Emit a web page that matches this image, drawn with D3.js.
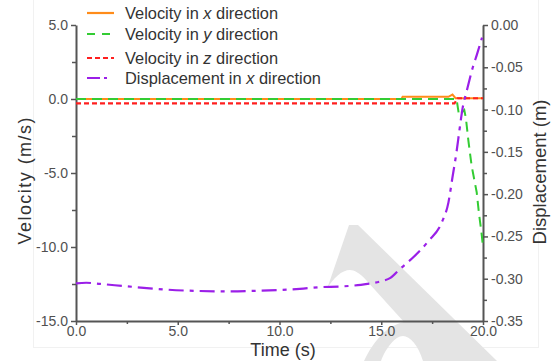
<!DOCTYPE html>
<html>
<head>
<meta charset="utf-8">
<script src="https://cdn.jsdelivr.net/npm/d3@7"></script>
<style>
  body { margin: 0; background: #fff; }
  svg { display: block; }
  text { font-family: "Liberation Sans", Arial, Helvetica, sans-serif; }
</style>
</head>
<body>
<svg id="chart" width="553" height="361"></svg>
<script>
// Velocity in x direction (m/s)
const vxTime  = [0, 16.0, 16.05, 18.3, 18.5, 18.65, 20];
const vxValue = [0, 0, 0.15, 0.15, 0.3, 0.05, 0.05];

// Velocity in y direction (m/s)
const vyTime  = [0, 18.7, 18.82, 19.08, 19.16, 19.28, 19.44, 19.69, 19.8, 19.94, 20];
const vyValue = [0, 0, -1.08, -0.74, -1.3, -2.8, -4.5, -6.3, -7.7, -9.2, -10.0];

// Velocity in z direction (m/s)
const vzTime  = [0, 18.6, 18.75, 20];
const vzValue = [-0.3, -0.3, 0.05, 0.05];

// Displacement in x direction (m)
const dxTime  = [0, 0.5, 1.2, 2.5, 4.5, 6.0, 7.5, 9.0, 10.0, 11.0, 12.0, 13.0, 14.0, 14.5,
                 15.0, 15.45, 15.9, 16.6, 17.3, 18.0, 18.3, 18.5, 18.7, 18.85, 19.0, 19.2, 19.5, 19.7, 19.95];
const dxValue = [-0.3055, -0.3048, -0.3062, -0.3090, -0.3130, -0.3145, -0.3150, -0.3142, -0.3133, -0.3120,
                 -0.3100, -0.3092, -0.3072, -0.3055, -0.3030, -0.2990, -0.2890, -0.2740, -0.2560, -0.2320,
                 -0.2100, -0.1800, -0.1500, -0.1230, -0.0980, -0.0780, -0.0500, -0.0350, -0.0150];

// Axis ticks
const timeTicks   = [0, 5, 10, 15, 20];
const timeMinor   = [2.5, 7.5, 12.5, 17.5];
const velTicks    = [-15, -10, -5, 0, 5];
const velMinor    = [-12.5, -7.5, -2.5, 2.5];
const dispTicks   = [-0.35, -0.30, -0.25, -0.20, -0.15, -0.10, -0.05, 0.00];
const dispMinor   = [-0.325, -0.275, -0.225, -0.175, -0.125, -0.075, -0.025];

// Legend entries
const legendPre  = ["Velocity in ", "Velocity in ", "Velocity in ", "Displacement in "];
const legendVar  = ["x", "y", "z", "x"];
const legendPost = [" direction", " direction", " direction", " direction"];

const svg = d3.select("#chart");
const axisColor = "#555";
const colors = { vx: "#ff8c1a", vy: "#33cc33", vz: "#ff1f1f", dx: "#9b1fe8" };

const x  = d3.scaleLinear().domain([0, 20]).range([76, 483]);
const yV = d3.scaleLinear().domain([-15, 5]).range([321, 25]);
const yD = d3.scaleLinear().domain([-0.35, 0]).range([321, 25]);

const fmt = (p) => (d) => d3.format("." + p + "f")(d).replace("\u2212", "-");

// faint frame behind the figure
svg.append("rect")
  .attr("x", 33.5).attr("y", -1).attr("width", 505).attr("height", 348.5)
  .attr("fill", "#fff").attr("stroke", "#f1f1f1").attr("stroke-width", 1);

// background logo mark
svg.append("path")
  .attr("d", "M349,225 L358,225 L497,361 L423,361 C418,345 410,336 403,336 C395,336 386,348 381,361 " +
             "L364,361 C374,340 388,325 404,322 L366,280 C360,273 354,270 350,270 C342,270 333,278 327,289 Z")
  .attr("fill", "#e4e4e4");

// axes
function styleAxis(g, labelSize) {
  g.select(".domain").attr("stroke", axisColor).attr("stroke-width", 2);
  g.selectAll(".tick line").attr("stroke", axisColor).attr("stroke-width", 1.5);
  g.selectAll(".tick text").attr("fill", "#505050").attr("font-size", labelSize);
}

const gx = svg.append("g").attr("transform", "translate(0,321)")
  .call(d3.axisBottom(x).tickValues(timeTicks).tickFormat(fmt(1)).tickSize(4).tickSizeOuter(0).tickPadding(1));
styleAxis(gx, 14);
svg.append("g").attr("transform", "translate(0,321)")
  .call(d3.axisBottom(x).tickValues(timeMinor).tickFormat("").tickSize(3).tickSizeOuter(0))
  .call(g => { g.select(".domain").remove(); g.selectAll("line").attr("stroke", axisColor).attr("stroke-width", 1.5); });

const gl = svg.append("g").attr("transform", "translate(76,0)")
  .call(d3.axisLeft(yV).tickValues(velTicks).tickFormat(fmt(1)).tickSize(5).tickSizeOuter(0).tickPadding(3));
styleAxis(gl, 14);
svg.append("g").attr("transform", "translate(76,0)")
  .call(d3.axisLeft(yV).tickValues(velMinor).tickFormat("").tickSize(4).tickSizeOuter(0))
  .call(g => { g.select(".domain").remove(); g.selectAll("line").attr("stroke", axisColor).attr("stroke-width", 1.5); });

const gr = svg.append("g").attr("transform", "translate(483,0)")
  .call(d3.axisRight(yD).tickValues(dispTicks).tickFormat(fmt(2)).tickSize(5).tickSizeOuter(0).tickPadding(3));
styleAxis(gr, 14);
svg.append("g").attr("transform", "translate(483,0)")
  .call(d3.axisRight(yD).tickValues(dispMinor).tickFormat("").tickSize(4).tickSizeOuter(0))
  .call(g => { g.select(".domain").remove(); g.selectAll("line").attr("stroke", axisColor).attr("stroke-width", 1.5); });

// axis titles
svg.append("text").attr("x", 283).attr("y", 356).attr("text-anchor", "middle")
  .attr("font-size", 18).attr("fill", "#333").text("Time (s)");
svg.append("text").attr("transform", "translate(31,181) rotate(-90)").attr("text-anchor", "middle")
  .attr("font-size", 18).attr("fill", "#333").attr("textLength", 127).attr("lengthAdjust", "spacing")
  .text("Velocity (m/s)");
svg.append("text").attr("transform", "translate(546,172) rotate(-90)").attr("text-anchor", "middle")
  .attr("font-size", 18.5).attr("fill", "#333").text("Displacement (m)");

// series
const lineV = d3.line().x(d => x(d[0])).y(d => yV(d[1]));
const lineD = d3.line().x(d => x(d[0])).y(d => yD(d[1])).curve(d3.curveMonotoneX);
const zip = (a, b) => a.map((t, i) => [t, b[i]]);

const series = [
  { data: zip(vxTime, vxValue), gen: lineV, color: colors.vx, dash: null,        width: 2 },
  { data: zip(vzTime, vzValue), gen: lineV, color: colors.vz, dash: "5,3",       width: 2.2 },
  { data: zip(vyTime, vyValue), gen: lineV, color: colors.vy, dash: "10,6",      width: 2 },
  { data: zip(dxTime, dxValue), gen: lineD, color: colors.dx, dash: "15,6,4,6",  width: 2.2 }
];
series.forEach(s => {
  svg.append("path").attr("d", s.gen(s.data)).attr("fill", "none")
    .attr("stroke", s.color).attr("stroke-width", s.width)
    .attr("stroke-dasharray", s.dash);
});

// legend
const legendColors = [colors.vx, colors.vy, colors.vz, colors.dx];
const legendDash   = [null, "8,7", "5,3", "13,4,3,30"];
const legendY      = [13, 34, 58, 78];
legendPre.forEach((pre, i) => {
  svg.append("line").attr("x1", 87).attr("x2", 114).attr("y1", legendY[i]).attr("y2", legendY[i])
    .attr("stroke", legendColors[i]).attr("stroke-width", 2.2).attr("stroke-dasharray", legendDash[i]);
  const t = svg.append("text").attr("x", 125).attr("y", legendY[i] + 5.5)
    .attr("font-size", 16.4).attr("fill", "#333");
  t.append("tspan").text(pre);
  t.append("tspan").attr("font-style", "italic").text(legendVar[i]);
  t.append("tspan").text(legendPost[i]);
});
</script>
</body>
</html>
